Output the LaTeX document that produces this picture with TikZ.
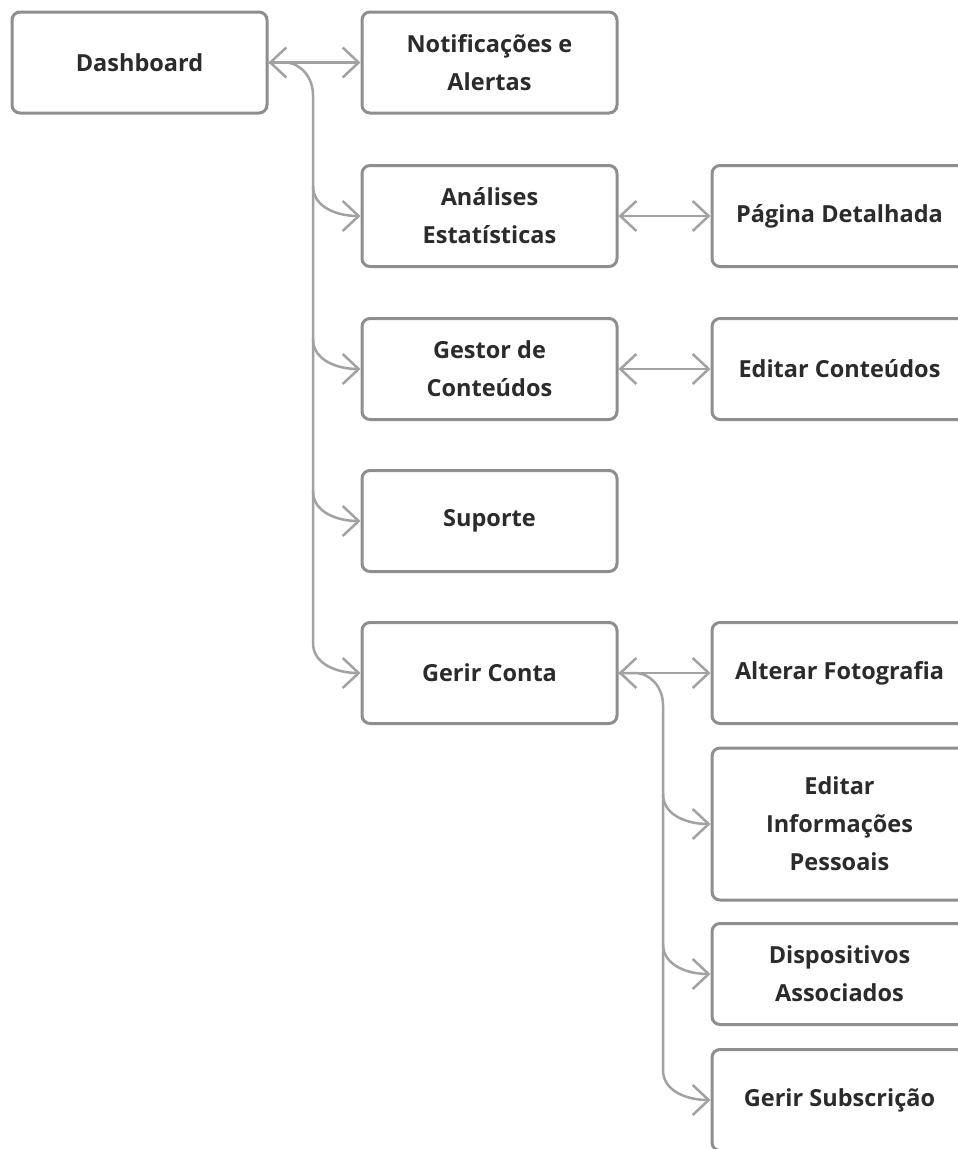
\documentclass[tikz,border=0pt]{standalone}
\usepackage{fontspec}
\setmainfont{Open Sans}
\usetikzlibrary{arrows.meta}
\definecolor{boxline}{HTML}{8E8E8E}
\definecolor{conline}{HTML}{A2A2A2}
\definecolor{txt}{HTML}{2B2B2B}
\tikzset{
  box/.style={draw=boxline, line width=3pt, rounded corners=8pt, fill=white,
    minimum width=255pt, minimum height=101pt, inner sep=0pt,
    align=center, text=txt, font=\fontsize{23.5}{38}\selectfont\bfseries},
  tall/.style={box, minimum height=152pt},
  con/.style={draw=conline, line width=2.5pt, line cap=round, line join=round},
  tip/.style={-{Straight Barb[length=16pt,width=30pt,line width=2.5pt]}},
  dtip/.style={{Straight Barb[length=16pt,width=30pt,line width=2.5pt]}-{Straight Barb[length=16pt,width=30pt,line width=2.5pt]}},
}
\begin{document}
\begin{tikzpicture}[x=1pt,y=1pt]
\useasboundingbox (0,0) rectangle (958,-1149);
\fill[white] (0,0) rectangle (958,-1149);
% left and middle columns
\node[box] (dash)  at (139.5,-62.5) {Dashboard};
\node[box] (notif) at (489.5,-62.5) {Notificações e\\Alertas};
\node[box] (ana)   at (489.5,-216) {Análises\\Estatísticas};
\node[box] (gest)  at (489.5,-369) {Gestor de\\Conteúdos};
\node[box] (sup)   at (489.5,-521) {Suporte};
\node[box] (conta) at (489.5,-673) {Gerir Conta};
% right column (cut at page edge)
\node[box] (pag)  at (839.5,-216) {Página Detalhada};
\node[box] (edc)  at (839.5,-369) {Editar Conteúdos};
\node[box] (alt)  at (839.5,-673) {Alterar Fotografia};
\node[tall] (inf) at (839.5,-824) {Editar\\Informações\\Pessoais};
\node[box] (disp) at (839.5,-974) {Dispositivos\\Associados};
\node[box] (subs) at (839.5,-1100) {Gerir Subscrição};
% trunk coordinates
\coordinate (t1top) at (313,-95);
\coordinate (t1bot) at (313,-643);
\coordinate (t2top) at (663,-705);
\coordinate (t2bot) at (663,-1070);
% connectors from Dashboard
\draw[con,dtip] (dash.east) -- (notif.west);
\draw[con,tip] (dash.east) -- ++(16,0) to[out=0,in=90] (t1top) -- (t1bot) to[out=-90,in=180] (conta.west);
\draw[con,tip] (313,-186) to[out=-90,in=180] (ana.west);
\draw[con,tip] (313,-339) to[out=-90,in=180] (gest.west);
\draw[con,tip] (313,-491) to[out=-90,in=180] (sup.west);
% connectors middle to right
\draw[con,dtip] (ana.east) -- (pag.west);
\draw[con,dtip] (gest.east) -- (edc.west);
\draw[con,dtip] (conta.east) -- (alt.west);
\draw[con,tip] (conta.east) -- ++(16,0) to[out=0,in=90] (t2top) -- (t2bot) to[out=-90,in=180] (subs.west);
\draw[con,tip] (663,-794) to[out=-90,in=180] (inf.west);
\draw[con,tip] (663,-944) to[out=-90,in=180] (disp.west);
\end{tikzpicture}
\end{document}
